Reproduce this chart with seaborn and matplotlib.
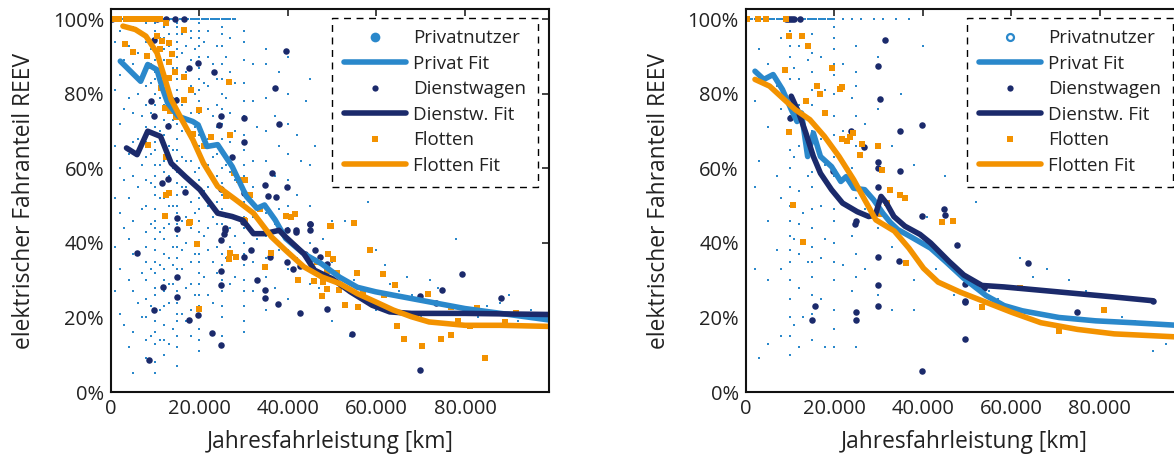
import matplotlib
matplotlib.use("Agg")
import matplotlib.pyplot as plt
from matplotlib.lines import Line2D
from matplotlib.ticker import FuncFormatter, MultipleLocator
import seaborn as sns

PRIV_COLOR = '#2a88cb'
DIENST_COLOR = '#1b2a6b'
FLOTTE_COLOR = '#f39200'

# ---------------- left panel ----------------
# Privatnutzer: many single users, reported mileages cluster on round values
priv_left_cols = {
    1000: [0.94, 0.81, 0.66, 0.52, 0.39, 0.27],
    2000: [0.97, 0.85, 0.72, 0.60, 0.48, 0.33, 0.21],
    3000: [0.89, 0.76, 0.57, 0.44, 0.18],
    4000: [0.93, 0.79, 0.64, 0.52, 0.41, 0.30, 0.12],
    5000: [0.98, 0.88, 0.75, 0.67, 0.58, 0.46, 0.37, 0.27, 0.16, 0.05],
    6000: [0.91, 0.80, 0.68, 0.55, 0.37, 0.24],
    7000: [0.96, 0.85, 0.74, 0.61, 0.49, 0.32, 0.20],
    8000: [0.99, 0.94, 0.90, 0.86, 0.82, 0.77, 0.71, 0.67, 0.63, 0.57, 0.50, 0.43, 0.39,
           0.35, 0.30, 0.25, 0.20, 0.14, 0.09],
    9000: [0.92, 0.83, 0.75, 0.64, 0.56, 0.45, 0.33, 0.23, 0.15],
    10000: [0.99, 0.97, 0.94, 0.92, 0.89, 0.86, 0.84, 0.80, 0.77, 0.74, 0.71, 0.67, 0.65,
            0.61, 0.58, 0.55, 0.53, 0.49, 0.46, 0.44, 0.41, 0.38, 0.35, 0.32, 0.28, 0.26,
            0.22, 0.19, 0.16, 0.13, 0.08, 0.05],
    11000: [0.95, 0.88, 0.79, 0.70, 0.61, 0.52, 0.43, 0.34, 0.22, 0.14],
    12000: [0.98, 0.95, 0.92, 0.89, 0.86, 0.83, 0.80, 0.77, 0.73, 0.69, 0.66, 0.62, 0.59,
            0.56, 0.52, 0.47, 0.44, 0.41, 0.37, 0.33, 0.30, 0.27, 0.23, 0.18, 0.14, 0.10],
    13000: [0.96, 0.93, 0.81, 0.72, 0.66, 0.58, 0.50, 0.45, 0.36, 0.29, 0.24, 0.13],
    14000: [0.91, 0.87, 0.79, 0.73, 0.65, 0.60, 0.50, 0.39, 0.34, 0.29, 0.17],
    15000: [0.99, 0.98, 0.96, 0.94, 0.92, 0.90, 0.87, 0.84, 0.81, 0.79, 0.75, 0.72, 0.68,
            0.65, 0.62, 0.59, 0.56, 0.53, 0.50, 0.48, 0.45, 0.42, 0.39, 0.36, 0.33, 0.31,
            0.27, 0.24, 0.21, 0.19, 0.15, 0.12, 0.07],
    16000: [0.96, 0.91, 0.84, 0.77, 0.70, 0.63, 0.55, 0.46, 0.38, 0.33, 0.21],
    17000: [0.93, 0.86, 0.78, 0.70, 0.62, 0.55, 0.47, 0.40, 0.28, 0.19],
    18000: [0.97, 0.95, 0.89, 0.82, 0.75, 0.68, 0.62, 0.57, 0.51, 0.44, 0.35, 0.29, 0.22,
            0.15],
    19000: [0.92, 0.80, 0.71, 0.59, 0.48, 0.37, 0.26],
    20000: [0.99, 0.97, 0.95, 0.93, 0.90, 0.87, 0.84, 0.81, 0.78, 0.75, 0.72, 0.69, 0.66,
            0.63, 0.60, 0.57, 0.55, 0.52, 0.49, 0.46, 0.43, 0.40, 0.37, 0.35, 0.32, 0.29,
            0.26, 0.23, 0.20, 0.17, 0.14, 0.11],
    21000: [0.94, 0.83, 0.67, 0.54, 0.42, 0.31],
    22000: [0.97, 0.90, 0.82, 0.76, 0.68, 0.61, 0.55, 0.50, 0.44, 0.38, 0.26],
    23000: [0.88, 0.74, 0.63, 0.47, 0.35, 0.24],
    24000: [0.93, 0.84, 0.77, 0.71, 0.64, 0.58, 0.51, 0.45, 0.39, 0.32],
    25000: [0.98, 0.96, 0.93, 0.88, 0.84, 0.80, 0.76, 0.72, 0.68, 0.64, 0.60, 0.56, 0.53,
            0.49, 0.45, 0.41, 0.37, 0.34, 0.30, 0.27, 0.23, 0.20, 0.15],
    26000: [0.90, 0.79, 0.61, 0.47, 0.36],
    27000: [0.95, 0.86, 0.75, 0.67, 0.59, 0.53, 0.44, 0.39, 0.29],
    28000: [0.83, 0.70, 0.57, 0.42, 0.31],
    30000: [0.97, 0.94, 0.89, 0.83, 0.78, 0.74, 0.69, 0.65, 0.61, 0.58, 0.54, 0.51, 0.47,
            0.44, 0.40, 0.37, 0.34, 0.30, 0.27, 0.23, 0.19, 0.16],
    32000: [0.88, 0.78, 0.62, 0.55, 0.47, 0.35, 0.27],
    33000: [0.71, 0.50, 0.41],
    35000: [0.92, 0.88, 0.79, 0.70, 0.62, 0.55, 0.48, 0.42, 0.36, 0.31, 0.22],
    37000: [0.74, 0.58, 0.45, 0.28],
    38000: [0.86, 0.66, 0.49, 0.38],
    40000: [0.90, 0.80, 0.72, 0.64, 0.57, 0.50, 0.44, 0.38, 0.33, 0.25],
    42000: [0.69, 0.53, 0.36],
    45000: [0.84, 0.61, 0.50, 0.40, 0.29],
}
priv_left_x_extra = [43000, 47000, 48000, 50000, 50000, 50000, 52000, 55000, 57000, 60000,
                     60000, 62000, 65000, 68000, 70000, 72000, 75000, 78000, 80000, 85000,
                     90000, 95000, 44000, 46000, 53000, 58000, 63000, 67000, 74000, 83000,
                     88000, 92000, 97000, 51000, 54000]
priv_left_y_extra = [0.62, 0.28, 0.41, 0.19, 0.35, 0.46, 0.56, 0.30, 0.25, 0.22,
                     0.38, 0.34, 0.27, 0.26, 0.20, 0.30, 0.24, 0.41, 0.21, 0.23,
                     0.26, 0.22, 0.78, 0.66, 0.46, 0.51, 0.29, 0.31, 0.28, 0.20,
                     0.24, 0.19, 0.21, 0.64, 0.15]
priv_left_full = [0, 500, 1000, 1500, 2000, 2500, 3000, 3500, 4000, 4500, 5000, 5500,
                  6000, 6500, 7000, 7500, 8000, 8500, 9000, 9500, 10000, 10500, 11000,
                  11500, 12000, 12500, 13000, 13500, 14000, 14500, 15000, 15500, 16000,
                  16500, 17000, 17500, 18000, 18500, 19000, 19500, 20000, 20500, 21000,
                  21500, 22000, 22500, 23000, 23500, 24000, 24500, 25000, 25500, 26000,
                  26500, 27000, 27500, 28000]

dienst_left_x = [200, 10400, 12400, 14400, 16400, 9800, 19700, 17700, 23300, 39500, 37100,
                 9000, 14800, 9700, 24900, 30000, 12800, 37900, 24500, 30000, 27400, 11600,
                 12800, 16800, 36300, 34700, 39800, 30000, 35500, 37300, 24800, 50700, 45000,
                 15000, 25700, 29800, 41900, 5900, 15000, 25700, 25500, 24800, 30000, 31700,
                 35900, 39800, 41900, 45000, 45000, 43900, 45000, 46000, 39800, 41100, 42700,
                 47300, 48900, 32900, 34700, 34700, 37700, 42700, 48900, 15000, 15000, 11700,
                 9800, 24800, 24800, 17700, 19700, 22900, 24800, 8700, 69900, 69900, 73400,
                 74900, 79400, 88100, 54500]
dienst_left_y = [1.00, 1.00, 1.00, 1.00, 1.00, 0.946, 0.883, 0.87, 0.858, 0.915, 0.816,
                 0.78, 0.785, 0.742, 0.742, 0.735, 0.713, 0.72, 0.717, 0.671, 0.632, 0.56,
                 0.572, 0.537, 0.587, 0.556, 0.55, 0.535, 0.526, 0.523, 0.544, 0.608, 0.451,
                 0.466, 0.439, 0.455, 0.435, 0.373, 0.438, 0.436, 0.425, 0.407, 0.362, 0.38,
                 0.362, 0.434, 0.43, 0.45, 0.434, 0.371, 0.358, 0.38, 0.349, 0.331, 0.338,
                 0.362, 0.343, 0.30, 0.273, 0.252, 0.237, 0.213, 0.224, 0.309, 0.255, 0.282,
                 0.219, 0.324, 0.288, 0.193, 0.206, 0.158, 0.125, 0.085, 0.257, 0.058, 0.239,
                 0.275, 0.318, 0.252, 0.157]

flotte_left_x = [600, 1800, 3300, 4200, 5200, 6200, 7200, 8000, 9000, 10000, 11000, 12400,
                 3100, 4900, 8200, 10400, 11600, 13000, 11000, 13900, 13200, 8600, 16400, 14400,
                 16600, 13200, 18100, 26700, 11300, 16400, 12200, 13300, 19800, 14600, 18500,
                 22500, 27000, 21000, 8400, 12400, 27800, 29000, 30400, 31400, 12400, 13000,
                 26000, 12200, 17900, 30000, 33700, 39500, 40700, 41500, 49600, 54900, 17700,
                 19500, 19900, 27000, 26600, 28300, 30200, 36100, 34700, 42300, 45800, 46600,
                 49100, 50100, 48900, 47900, 48900, 47700, 49800, 51000, 51500, 52900, 55500,
                 55900, 56900, 58500, 61500, 61800, 64200, 64700, 66200, 70300, 71600, 74700,
                 76900, 76800, 78400, 81200, 82700, 84500, 89100, 91500]
flotte_left_y = [1.00, 1.00, 1.00, 1.00, 1.00, 1.00, 1.00, 1.00, 1.00, 1.00, 1.00, 0.99,
                 0.935, 0.913, 0.901, 0.955, 0.942, 0.937, 0.921, 0.908, 0.885, 0.874, 0.971,
                 0.858, 0.845, 0.843, 0.81, 0.832, 0.816, 0.785, 0.761, 0.753, 0.758, 0.738,
                 0.692, 0.684, 0.691, 0.659, 0.662, 0.632, 0.587, 0.57, 0.568, 0.529, 0.529,
                 0.533, 0.525, 0.473, 0.455, 0.462, 0.491, 0.473, 0.471, 0.477, 0.446, 0.453,
                 0.454, 0.396, 0.224, 0.374, 0.358, 0.362, 0.46, 0.374, 0.336, 0.30, 0.297,
                 0.349, 0.371, 0.358, 0.325, 0.295, 0.277, 0.257, 0.445, 0.32, 0.274, 0.233,
                 0.32, 0.228, 0.269, 0.382, 0.316, 0.26, 0.286, 0.178, 0.142, 0.123, 0.263,
                 0.141, 0.154, 0.228, 0.191, 0.176, 0.226, 0.09, 0.188, 0.213]

priv_fit_left_x = [2100, 6700, 8300, 10400, 11600, 12800, 15200, 18500, 19700, 21700, 24100,
                   27400, 30600, 33000, 34700, 37100, 39500, 43600, 47600, 51700, 55700, 59800,
                   63800, 71900, 80000, 88100, 99200]
priv_fit_left_y = [0.888, 0.834, 0.879, 0.865, 0.816, 0.776, 0.74, 0.726, 0.717, 0.659, 0.664,
                   0.605, 0.525, 0.493, 0.502, 0.462, 0.412, 0.371, 0.344, 0.308, 0.281, 0.269,
                   0.26, 0.242, 0.224, 0.211, 0.193]
dienst_fit_left_x = [3500, 5900, 8300, 11200, 13600, 16800, 20100, 24100, 27400, 29800, 32200,
                     34700, 38000, 39500, 43600, 46000, 50000, 54100, 59000, 63000, 67900,
                     80000, 99200]
dienst_fit_left_y = [0.655, 0.637, 0.70, 0.686, 0.614, 0.578, 0.543, 0.48, 0.471, 0.461, 0.425,
                     0.425, 0.434, 0.416, 0.371, 0.327, 0.304, 0.269, 0.233, 0.215, 0.211,
                     0.211, 0.208]
flotte_fit_left_x = [2700, 5500, 7900, 10400, 12000, 13600, 16000, 18500, 20900, 24100, 28200,
                     32200, 36300, 39500, 43600, 47600, 51700, 55700, 59800, 63800, 67900,
                     71900, 80000, 88100, 99200]
flotte_fit_left_y = [0.982, 0.973, 0.955, 0.91, 0.848, 0.785, 0.731, 0.677, 0.614, 0.552,
                     0.516, 0.48, 0.416, 0.38, 0.336, 0.309, 0.291, 0.264, 0.242, 0.22, 0.202,
                     0.188, 0.179, 0.179, 0.176]

# ---------------- right panel ----------------
priv_right_cols = {
    2000: [0.78, 0.55, 0.33],
    3000: [0.92, 0.62, 0.09],
    5000: [0.88, 0.71, 0.46, 0.30, 0.13],
    7000: [0.82, 0.58, 0.38],
    8000: [0.95, 0.76, 0.52, 0.33, 0.15],
    10000: [0.97, 0.93, 0.90, 0.84, 0.79, 0.74, 0.70, 0.65, 0.60, 0.55, 0.50, 0.46, 0.42,
            0.38, 0.35, 0.30, 0.25, 0.20, 0.15, 0.10],
    11000: [0.87, 0.63, 0.41, 0.18],
    12000: [0.93, 0.84, 0.77, 0.66, 0.54, 0.45, 0.37, 0.28, 0.12],
    13000: [0.74, 0.48, 0.20],
    14000: [0.89, 0.58, 0.35],
    15000: [0.96, 0.91, 0.86, 0.81, 0.77, 0.70, 0.64, 0.59, 0.55, 0.49, 0.44, 0.39, 0.35,
            0.31, 0.26, 0.21, 0.14],
    17000: [0.90, 0.68, 0.50, 0.36, 0.25],
    18000: [0.81, 0.61, 0.41, 0.12],
    20000: [0.98, 0.95, 0.92, 0.88, 0.85, 0.80, 0.74, 0.69, 0.63, 0.58, 0.53, 0.49, 0.46,
            0.40, 0.35, 0.30, 0.22, 0.17, 0.12],
    22000: [0.88, 0.70, 0.57, 0.34],
    24000: [0.79, 0.60, 0.42, 0.27],
    25000: [0.93, 0.86, 0.82, 0.74, 0.66, 0.52, 0.45, 0.37, 0.31, 0.12],
    27000: [0.72, 0.49, 0.33],
    30000: [0.90, 0.76, 0.62, 0.44, 0.26],
    33000: [0.66, 0.39, 0.22],
    35000: [0.80, 0.53, 0.35],
    38000: [0.61, 0.30, 0.22],
}
priv_right_x_extra = [41000, 43000, 45000, 47000, 50000, 52000, 55000, 62000, 65000, 68000,
                      73000, 77000, 85000, 88000, 95000, 92000, 57000, 40000]
priv_right_y_extra = [0.47, 0.33, 0.58, 0.26, 0.30, 0.51, 0.27, 0.36, 0.31, 0.33,
                      0.30, 0.27, 0.20, 0.19, 0.13, 0.11, 0.25, 0.93]
priv_right_full = [0, 500, 1000, 1500, 2000, 2500, 3000, 3500, 4000, 4500, 5000, 5500,
                   6000, 6500, 7000, 7500, 8000, 8500, 9000, 9500, 10000, 10500, 11000,
                   11500, 12000, 12500, 13000, 13500, 14000, 14500, 15000, 15500, 16000,
                   16500, 17000, 17500, 18000, 18500, 19000, 19500, 20000, 22000, 24000,
                   26000, 29000, 31000, 34000, 37000]

dienst_right_x = [9100, 9600, 10000, 10500, 11000, 12200, 31400, 29900, 30400, 9900, 23800,
                  26700, 34800, 39800, 29900, 29900, 34800, 19800, 29900, 24300, 39800, 44900,
                  45100, 24700, 24900, 47800, 30000, 34600, 63800, 30000, 49500, 49500, 49500,
                  53900, 15700, 24900, 24900, 30000, 14900, 74800, 49500, 39800, 92000]
dienst_right_y = [1.00, 1.00, 1.00, 1.00, 1.00, 1.00, 0.946, 0.874, 0.787, 0.735, 0.701,
                  0.657, 0.701, 0.717, 0.617, 0.601, 0.592, 0.594, 0.549, 0.562, 0.473, 0.491,
                  0.474, 0.451, 0.458, 0.395, 0.362, 0.352, 0.345, 0.288, 0.291, 0.245, 0.241,
                  0.279, 0.232, 0.214, 0.194, 0.232, 0.194, 0.216, 0.143, 0.056, 0.245]

flotte_right_x = [400, 2700, 4700, 9100, 9800, 12800, 14000, 8800, 19600, 16100, 16900, 13600,
                  21300, 21800, 9800, 17900, 21800, 22800, 23600, 24300, 26200, 30000, 25900,
                  30800, 32600, 34800, 36000, 32000, 10700, 30600, 44400, 46900, 13000, 36200,
                  62000, 53300, 81000, 70800]
flotte_right_y = [1.00, 1.00, 1.00, 1.00, 0.955, 0.955, 0.93, 0.865, 0.87, 0.822, 0.80, 0.782,
                  0.812, 0.818, 0.697, 0.749, 0.679, 0.673, 0.684, 0.695, 0.665, 0.661, 0.637,
                  0.596, 0.543, 0.529, 0.52, 0.507, 0.503, 0.478, 0.456, 0.459, 0.402, 0.347,
                  0.279, 0.227, 0.22, 0.164]

priv_fit_right_x = [2100, 4100, 6200, 8300, 10300, 11600, 12600, 14000, 15300, 16900, 19400,
                    21500, 22700, 24400, 26900, 28900, 31000, 32700, 34400, 37700, 41800,
                    45200, 49300, 54300, 58400, 62500, 70800, 79100, 87400, 99000]
priv_fit_right_y = [0.861, 0.839, 0.852, 0.812, 0.758, 0.726, 0.749, 0.632, 0.695, 0.632,
                    0.605, 0.565, 0.578, 0.547, 0.543, 0.516, 0.48, 0.455, 0.436, 0.414, 0.386,
                    0.35, 0.305, 0.259, 0.232, 0.218, 0.20, 0.191, 0.186, 0.178]
dienst_fit_right_x = [10300, 12000, 13600, 15300, 16900, 19400, 21900, 25200, 27800, 29300,
                      30600, 31800, 33500, 36000, 39400, 41800, 46000, 49300, 53400, 58400,
                      66700, 75000, 83300, 92000]
dienst_fit_right_y = [0.794, 0.749, 0.695, 0.632, 0.587, 0.543, 0.507, 0.484, 0.471, 0.475,
                      0.525, 0.507, 0.471, 0.445, 0.423, 0.40, 0.35, 0.314, 0.286, 0.282,
                      0.273, 0.264, 0.255, 0.245]
flotte_fit_right_x = [2100, 5400, 8700, 11200, 14500, 17800, 21100, 24400, 26900, 29400, 33600,
                      36900, 40200, 43500, 48500, 54300, 60100, 66700, 75000, 83300, 99000]
flotte_fit_right_y = [0.839, 0.821, 0.785, 0.758, 0.731, 0.686, 0.632, 0.57, 0.516, 0.462,
                      0.432, 0.386, 0.332, 0.295, 0.268, 0.241, 0.214, 0.186, 0.168, 0.156,
                      0.147]


def flatten_cols(cols, extra_x, extra_y, full_x):
    xs, ys = [], []
    for x, col in cols.items():
        xs += [x] * len(col)
        ys += col
    xs += extra_x + full_x
    ys += extra_y + [1.0] * len(full_x)
    return xs, ys


def pct(v, pos):
    return f"{v * 100:.0f}%"


def km(v, pos):
    return f"{int(round(v)):,}".replace(',', '.')


def draw_panel(ax, priv, dienst, flotte, fits, priv_handle):
    sns.scatterplot(x=priv[0], y=priv[1], ax=ax, color=PRIV_COLOR, s=4,
                    linewidth=0, marker='s', legend=False)
    sns.lineplot(x=fits[0][0], y=fits[0][1], ax=ax, color=PRIV_COLOR, lw=4,
                 sort=False, estimator=None, solid_capstyle='round')
    sns.scatterplot(x=dienst[0], y=dienst[1], ax=ax, color=DIENST_COLOR, s=22,
                    linewidth=0, legend=False)
    sns.lineplot(x=fits[1][0], y=fits[1][1], ax=ax, color=DIENST_COLOR, lw=4,
                 sort=False, estimator=None, solid_capstyle='round')
    sns.scatterplot(x=flotte[0], y=flotte[1], ax=ax, color=FLOTTE_COLOR, s=15,
                    linewidth=0, marker='s', legend=False)
    sns.lineplot(x=fits[2][0], y=fits[2][1], ax=ax, color=FLOTTE_COLOR, lw=4,
                 sort=False, estimator=None, solid_capstyle='round')

    ax.set_xlim(0, 99000)
    ax.set_ylim(0, 1.028)
    ax.xaxis.set_major_locator(MultipleLocator(20000))
    ax.yaxis.set_major_locator(MultipleLocator(0.2))
    ax.xaxis.set_major_formatter(FuncFormatter(km))
    ax.yaxis.set_major_formatter(FuncFormatter(pct))
    ax.tick_params(direction='in', top=True, right=True, length=5, width=1.2,
                   labelsize=14.5, colors='#222222', pad=5)
    for sp in ax.spines.values():
        sp.set_visible(True)
        sp.set_linewidth(1.5)
        sp.set_color('#111111')
    ax.set_xlabel("Jahresfahrleistung [km]", fontsize=16.4, labelpad=8, color='#222222')
    ax.set_ylabel("elektrischer Fahranteil REEV", fontsize=16.4, labelpad=12, color='#222222')

    handles = [
        priv_handle,
        Line2D([], [], color=PRIV_COLOR, lw=4),
        Line2D([], [], ls='none', marker='o', ms=4.5, color=DIENST_COLOR, mew=0),
        Line2D([], [], color=DIENST_COLOR, lw=4),
        Line2D([], [], ls='none', marker='s', ms=4, color=FLOTTE_COLOR, mew=0),
        Line2D([], [], color=FLOTTE_COLOR, lw=4),
    ]
    labels = ["Privatnutzer", "Privat Fit", "Dienstwagen", "Dienstw. Fit", "Flotten", "Flotten Fit"]
    leg = ax.legend(handles, labels, loc='upper right', bbox_to_anchor=(0.975, 0.977),
                    borderaxespad=0, fontsize=13.5, handlelength=3.3, handletextpad=0.4,
                    labelspacing=0.40, borderpad=0.62, fancybox=False, framealpha=1,
                    edgecolor='black')
    leg.get_frame().set_linestyle((0, (5, 4)))
    leg.get_frame().set_linewidth(1.0)
    for t in leg.get_texts():
        t.set_color('#222222')


sns.set_style("white")
plt.rcParams['font.family'] = ['Open Sans', 'DejaVu Sans']

fig = plt.figure(figsize=(11.74, 4.59), dpi=100)
W, H = 1174, 459
ax1 = fig.add_axes([111 / W, 1 - 392 / H, 438 / W, 383 / H])
ax2 = fig.add_axes([745.7 / W, 1 - 392 / H, 438 / W, 383 / H])

draw_panel(
    ax1,
    flatten_cols(priv_left_cols, priv_left_x_extra, priv_left_y_extra, priv_left_full),
    (dienst_left_x, dienst_left_y),
    (flotte_left_x, flotte_left_y),
    [(priv_fit_left_x, priv_fit_left_y), (dienst_fit_left_x, dienst_fit_left_y),
     (flotte_fit_left_x, flotte_fit_left_y)],
    Line2D([], [], ls='none', marker='o', ms=7, color=PRIV_COLOR, mew=0),
)
draw_panel(
    ax2,
    flatten_cols(priv_right_cols, priv_right_x_extra, priv_right_y_extra, priv_right_full),
    (dienst_right_x, dienst_right_y),
    (flotte_right_x, flotte_right_y),
    [(priv_fit_right_x, priv_fit_right_y), (dienst_fit_right_x, dienst_fit_right_y),
     (flotte_fit_right_x, flotte_fit_right_y)],
    Line2D([], [], ls='none', marker='o', ms=5, mfc='white', mec=PRIV_COLOR, mew=1.6),
)

fig.savefig("out.png", dpi=100)
